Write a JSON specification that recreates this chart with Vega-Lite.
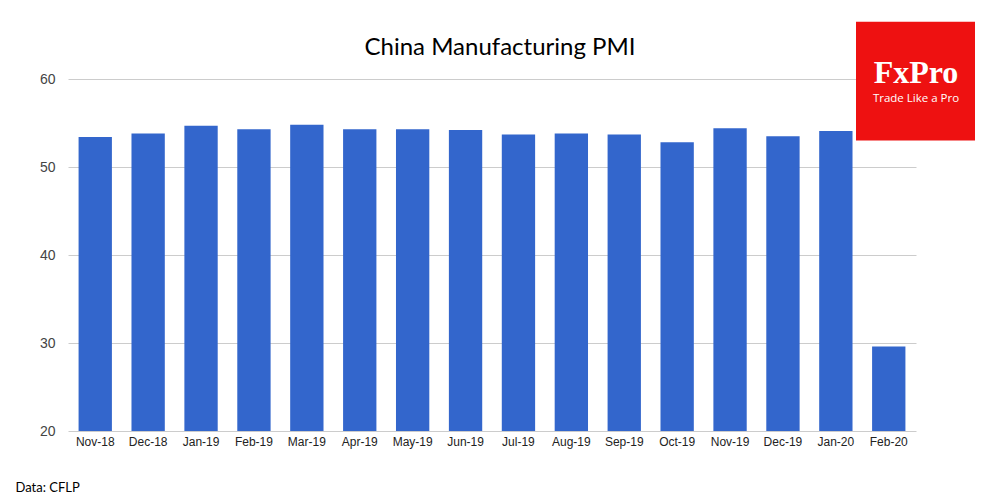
{
  "$schema": "https://vega.github.io/schema/vega-lite/v6.json",
  "width": 848,
  "height": 352,
  "autosize": "none",
  "padding": {"left": 68, "top": 79, "right": 84, "bottom": 69},
  "background": "white",
  "title": {"text": "China Manufacturing PMI", "font": "Lato", "fontSize": 24, "fontWeight": "normal", "color": "#000000", "offset": -38, "dx": 8},
  "config": {"view": {"stroke": null}},
  "layer": [
    {
      "data": {"values": [
        {"month": "Nov-18", "pmi": 53.4},
        {"month": "Dec-18", "pmi": 53.8},
        {"month": "Jan-19", "pmi": 54.7},
        {"month": "Feb-19", "pmi": 54.3},
        {"month": "Mar-19", "pmi": 54.8},
        {"month": "Apr-19", "pmi": 54.3},
        {"month": "May-19", "pmi": 54.3},
        {"month": "Jun-19", "pmi": 54.2},
        {"month": "Jul-19", "pmi": 53.7},
        {"month": "Aug-19", "pmi": 53.8},
        {"month": "Sep-19", "pmi": 53.7},
        {"month": "Oct-19", "pmi": 52.8},
        {"month": "Nov-19", "pmi": 54.4},
        {"month": "Dec-19", "pmi": 53.5},
        {"month": "Jan-20", "pmi": 54.1},
        {"month": "Feb-20", "pmi": 29.6}
      ]},
      "mark": {"type": "bar", "color": "#3366cc"},
      "encoding": {
        "x": {
          "field": "month", "type": "nominal", "sort": null,
          "scale": {"paddingInner": 0.37, "paddingOuter": 0.2},
          "axis": {
            "title": "Data: CFLP", "titleFont": "Lato", "titleFontSize": 13, "titleFontWeight": "normal", "titleColor": "#000000",
            "titleAnchor": "start", "titleAlign": "left", "titleX": -53, "titleY": 56, "titleBaseline": "middle",
            "labelAngle": 0, "labelFont": "Liberation Sans", "labelFontSize": 12, "labelColor": "#222222", "labelPadding": 5,
            "domain": false, "ticks": false
          }
        },
        "y": {
          "field": "pmi", "type": "quantitative",
          "scale": {"domain": [20, 60], "zero": false, "nice": false},
          "axis": {
            "title": null, "values": [20, 30, 40, 50, 60], "domain": false, "ticks": false,
            "labelFont": "Liberation Sans", "labelFontSize": 14, "labelColor": "#444444", "labelPadding": 13,
            "grid": true, "gridColor": "#cccccc", "gridWidth": 1
          }
        },
        "y2": {"datum": 20}
      }
    },
    {
      "data": {"values": [{"brand": "FxPro", "tagline": "Trade Like a Pro"}]},
      "layer": [
        {
          "mark": {"type": "rect", "color": "#ee1111", "clip": false},
          "encoding": {
            "x": {"datum": 788, "type": "quantitative", "scale": {"domain": [0, 848], "nice": false, "zero": false}, "axis": null},
            "x2": {"datum": 907},
            "y": {"datum": 66.5, "type": "quantitative"},
            "y2": {"datum": 53}
          }
        },
        {
          "mark": {"type": "text", "color": "white", "font": "Liberation Serif", "fontSize": 32, "fontWeight": "bold", "baseline": "alphabetic", "align": "center", "clip": false},
          "encoding": {
            "x": {"datum": 848, "type": "quantitative", "scale": {"domain": [0, 848], "nice": false, "zero": false}, "axis": null},
            "y": {"datum": 59.6, "type": "quantitative"},
            "text": {"field": "brand"}
          }
        },
        {
          "mark": {"type": "text", "color": "white", "font": "Open Sans", "fontSize": 11.5, "baseline": "middle", "align": "center", "clip": false},
          "encoding": {
            "x": {"datum": 848, "type": "quantitative", "scale": {"domain": [0, 848], "nice": false, "zero": false}, "axis": null},
            "y": {"datum": 57.7, "type": "quantitative"},
            "text": {"field": "tagline"}
          }
        }
      ]
    }
  ],
  "resolve": {"scale": {"x": "independent"}}
}
